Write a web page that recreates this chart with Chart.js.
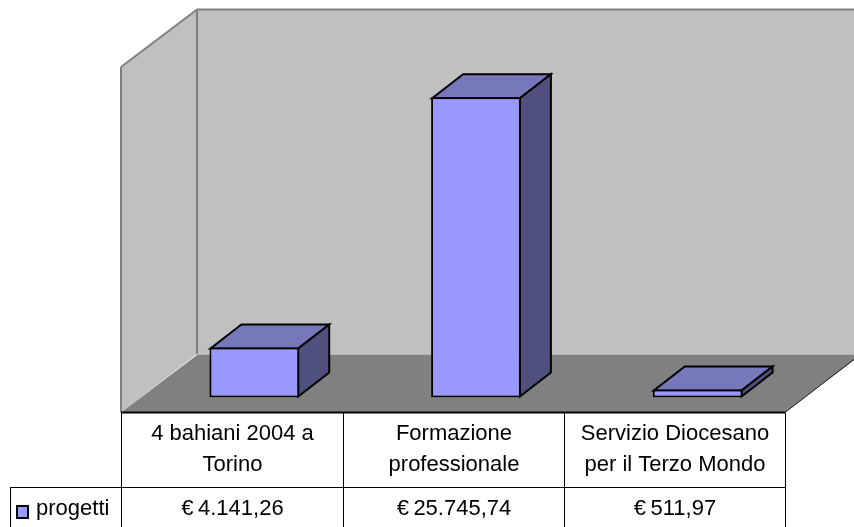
<!DOCTYPE html>
<html><head><meta charset="utf-8">
<style>html,body{margin:0;padding:0;background:#fff}#w{position:absolute;left:0;top:0;width:854px;height:527px}</style>
<script src="https://cdn.jsdelivr.net/npm/chart.js@4"></script>
</head><body><div id="w"><canvas id="c" width="854" height="527"></canvas></div>
<script>
const categoryLines = [["4 bahiani 2004 a","Torino"],["Formazione","professionale"],["Servizio Diocesano","per il Terzo Mondo"]];
const categories = ["4 bahiani 2004 a Torino","Formazione professionale","Servizio Diocesano per il Terzo Mondo"];
const seriesName = "progetti";
const progetti = [4141.26,25745.74,511.97];
const valueLabels = ["€\u2009","€\u2009","€\u2009"].map((e,i)=>e+["4.141,26","25.745,74","511,97"][i]);
const FONT = '22px "Liberation Sans"';
const DX=31, DY=24;
function poly(ctx,pts,fill,stroke,lw){ctx.beginPath();pts.forEach((p,i)=>i?ctx.lineTo(p[0],p[1]):ctx.moveTo(p[0],p[1]));ctx.closePath();
 if(fill){ctx.fillStyle=fill;ctx.fill();} if(stroke){ctx.strokeStyle=stroke;ctx.lineWidth=lw;ctx.lineJoin='miter';ctx.stroke();}}
function line(ctx,x1,y1,x2,y2,c,lw){ctx.beginPath();ctx.moveTo(x1,y1);ctx.lineTo(x2,y2);ctx.strokeStyle=c;ctx.lineWidth=lw;ctx.stroke();}
const box3d={id:'box3d',
 beforeDatasetsDraw(ch){const ctx=ch.ctx;ctx.save();
  const L=121,R=785,F=412.5,BX=197,BY=354,T=9.5,TL=67,W=ch.width;
  poly(ctx,[[BX,T],[BX+R-L,T],[BX+R-L,BY],[BX,BY]],'#C0C0C0');
  poly(ctx,[[L,TL],[BX,T],[BX,BY],[L,F]],'#C0C0C0');
  line(ctx,BX,BY+.5,W,BY+.5,'#b4b4b4',1);
  poly(ctx,[[L,F],[BX,BY+1],[BX+R-L,BY+1],[R,F]],'#808080');
  line(ctx,L,TL,BX,T,'#808080',2);line(ctx,L,TL,L,F,'#808080',2);
  line(ctx,BX,T,BX,BY,'#808080',2);line(ctx,BX,T,W,T,'#808080',2);
  line(ctx,R,F,BX+R-L,BY,'#202020',1);
  const m=ch.getDatasetMeta(0);
  m.data.forEach(b=>{const l=b.x-b.width/2+1,r=b.x+b.width/2-1,t=b.y+1,bm=b.base-1;
   poly(ctx,[[l,t],[l+DX,t-DY],[r+DX,t-DY],[r,t]],'#7777BB','#000',2);
   poly(ctx,[[r,t],[r+DX,t-DY],[r+DX,bm-DY],[r,bm]],'#50507F','#000',2);
  });
  ctx.restore();},
 afterDatasetsDraw(ch){const ctx=ch.ctx;ctx.save();
  const xs=[121,343,564,785],F=412.5,Rw=487,B=527;
  line(ctx,121,F,785,F,'#000',2);
  line(ctx,10.5,Rw+.5,785,Rw+.5,'#000',1);
  xs.forEach(x=>line(ctx,x+.5,F,x+.5,B,'#000',1));
  line(ctx,10.5,Rw,10.5,B,'#000',1);
  poly(ctx,[[17,506],[28,506],[28,518],[17,518]],'#9999FF','#000',2);
  ctx.font=FONT;ctx.fillStyle='#000';ctx.textAlign='center';ctx.textBaseline='alphabetic';
  categoryLines.forEach((ls,i)=>{const cx=(xs[i]+xs[i+1])/2+.5;
   ls.forEach((s,j)=>ctx.fillText(s,cx,440+j*31));
   ctx.fillText(valueLabels[i],cx,515);});
  ctx.textAlign='left';ctx.fillText(seriesName,36,515);
  ctx.restore();}
};
const axisFloor = -180, axisMax = 30000;
new Chart(document.getElementById('c'),{type:'bar',
 data:{labels:categories,datasets:[{label:seriesName,data:progetti,base:axisFloor,backgroundColor:'#9999FF',borderColor:'#000',borderWidth:2,borderSkipped:false,barPercentage:.405,categoryPercentage:1}]},
 options:{responsive:false,animation:false,
  layout:{padding:{left:143.5,right:45.5,top:48,bottom:129.5}},
  plugins:{legend:{display:false},title:{display:false},tooltip:{enabled:false}},
  scales:{x:{display:false,offset:true},y:{display:false,min:axisFloor,max:axisMax}}},
 plugins:[box3d]});
</script></body></html>
